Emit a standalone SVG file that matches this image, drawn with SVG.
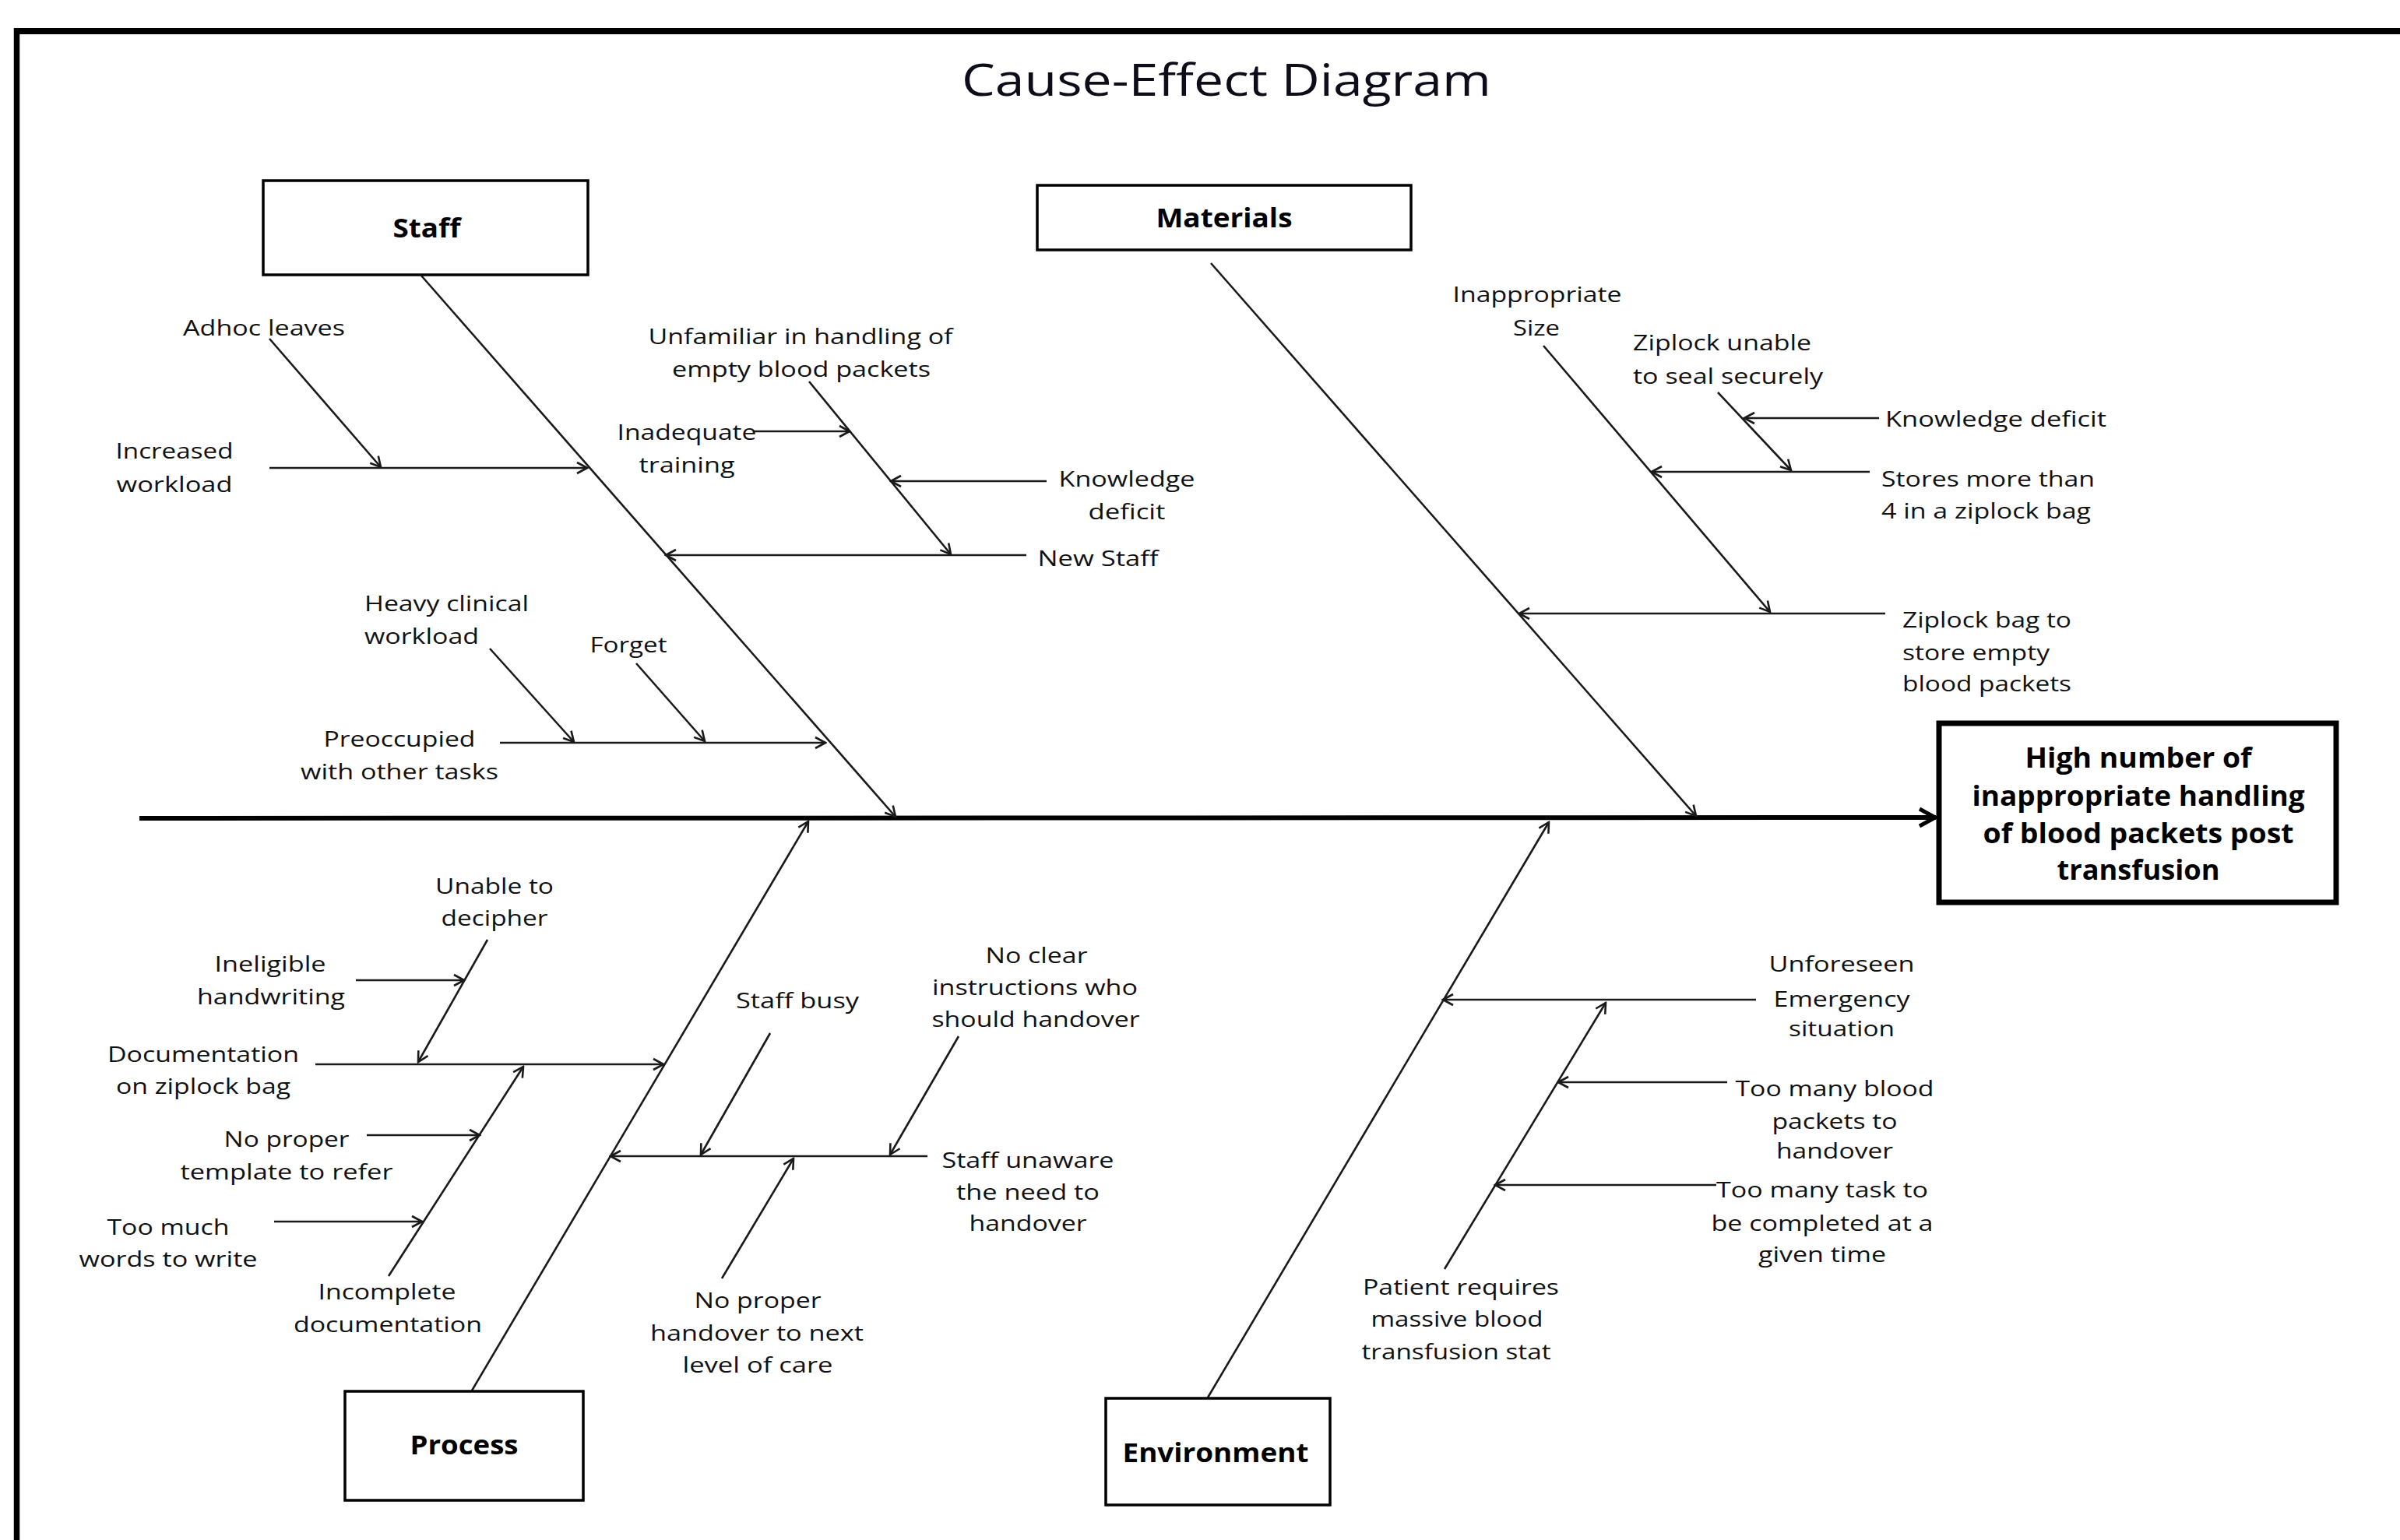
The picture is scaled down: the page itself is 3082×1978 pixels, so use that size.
<svg xmlns="http://www.w3.org/2000/svg" width="3082" height="1978" viewBox="0 0 3082 1978">
<style>
.t{font-family:"Open Sans","Liberation Sans",sans-serif;font-size:28px;fill:#111;text-anchor:middle}
.s{text-anchor:start}
.b{font-family:"Open Sans","Liberation Sans",sans-serif;font-weight:bold;font-size:34px;fill:#000;text-anchor:middle}
.title{font-family:"Open Sans","Liberation Sans",sans-serif;font-size:56px;fill:#0d0d1a;text-anchor:middle}
.box{fill:#fff;stroke:#000;stroke-width:3.5}
.c line{stroke:#1a1a1a;stroke-width:2.6;fill:none;marker-end:url(#a)}
.c line.spine{stroke:#000;stroke-width:6;marker-end:url(#big)}
</style>
<defs>
<marker id="a" viewBox="0 0 20 20" refX="18" refY="10" markerWidth="20" markerHeight="20" markerUnits="userSpaceOnUse" orient="auto">
<path d="M5,3 L18,10 L5,17" fill="none" stroke="#1a1a1a" stroke-width="2.6"/>
</marker>
<marker id="big" viewBox="0 0 30 30" refX="27" refY="15" markerWidth="30" markerHeight="30" markerUnits="userSpaceOnUse" orient="auto">
<path d="M6,4 L26,15 L6,26" fill="none" stroke="#000" stroke-width="5"/>
</marker>
</defs>
<rect width="3082" height="1978" fill="#fff"/>
<g id="frame">
<line x1="21.5" y1="36" x2="21.5" y2="1978" stroke="#000" stroke-width="7.5"/>
<line x1="18" y1="40" x2="3082" y2="40" stroke="#000" stroke-width="8"/>
</g>
<g id="title"><text class="title" x="1575" y="123" textLength="680" lengthAdjust="spacingAndGlyphs">Cause-Effect Diagram</text></g>

<g id="connectors" class="c">
<line class="spine" x1="179" y1="1051" x2="2486" y2="1050"/>
<line x1="541" y1="354" x2="1150" y2="1049"/>
<line x1="1555" y1="338" x2="2178" y2="1048"/>
<line x1="606" y1="1786" x2="1038" y2="1055"/>
<line x1="1551" y1="1795" x2="1989" y2="1056"/>
<line x1="346" y1="435" x2="489" y2="600"/>
<line x1="346" y1="601" x2="754" y2="601"/>
<line x1="1039" y1="490" x2="1221" y2="712"/>
<line x1="968" y1="554" x2="1091" y2="554"/>
<line x1="1344" y1="618" x2="1144" y2="618"/>
<line x1="1318" y1="713" x2="855" y2="713"/>
<line x1="629" y1="833" x2="737" y2="953"/>
<line x1="817" y1="852" x2="905" y2="952"/>
<line x1="642" y1="954" x2="1060" y2="954"/>
<line x1="1982" y1="444" x2="2273" y2="786"/>
<line x1="2206" y1="504" x2="2300" y2="604"/>
<line x1="2413" y1="537" x2="2240" y2="537"/>
<line x1="2401" y1="606" x2="2121" y2="606"/>
<line x1="2421" y1="788" x2="1951" y2="788"/>
<line x1="626" y1="1207" x2="537" y2="1364"/>
<line x1="457" y1="1259" x2="596" y2="1259"/>
<line x1="405" y1="1367" x2="852" y2="1367"/>
<line x1="471" y1="1458" x2="616" y2="1458"/>
<line x1="352" y1="1569" x2="542" y2="1569"/>
<line x1="499" y1="1639" x2="672" y2="1370"/>
<line x1="989" y1="1327" x2="900" y2="1483"/>
<line x1="1231" y1="1331" x2="1143" y2="1483"/>
<line x1="1191" y1="1485" x2="784" y2="1485"/>
<line x1="927" y1="1642" x2="1019" y2="1488"/>
<line x1="2255" y1="1284" x2="1853" y2="1284"/>
<line x1="1855" y1="1630" x2="2062" y2="1288"/>
<line x1="2218" y1="1390" x2="2001" y2="1390"/>
<line x1="2204" y1="1522" x2="1920" y2="1522"/>
</g>

<g id="staff"><rect class="box" x="338" y="232" width="417" height="121"/><text class="b" x="548" y="305" textLength="87" lengthAdjust="spacingAndGlyphs">Staff</text></g>
<g id="materials"><rect class="box" x="1332" y="238" width="480" height="83"/><text class="b" x="1572" y="292" textLength="175" lengthAdjust="spacingAndGlyphs">Materials</text></g>
<g id="process"><rect class="box" x="443" y="1787" width="306" height="140"/><text class="b" x="596" y="1868" textLength="139" lengthAdjust="spacingAndGlyphs">Process</text></g>
<g id="environment"><rect class="box" x="1420" y="1796" width="288" height="137"/><text class="b" x="1561" y="1878" textLength="239" lengthAdjust="spacingAndGlyphs">Environment</text></g>
<g id="effect"><rect x="2490" y="929" width="510" height="230" fill="#fff" stroke="#000" stroke-width="7"/>
<text class="b" style="font-size:36px" x="2746" y="986" textLength="291" lengthAdjust="spacingAndGlyphs">High number of</text>
<text class="b" style="font-size:36px" x="2746" y="1035" textLength="427" lengthAdjust="spacingAndGlyphs">inappropriate handling</text>
<text class="b" style="font-size:36px" x="2746" y="1083" textLength="399" lengthAdjust="spacingAndGlyphs">of blood packets post</text>
<text class="b" style="font-size:36px" x="2746" y="1130" textLength="209" lengthAdjust="spacingAndGlyphs">transfusion</text></g>

<g id="adhoc"><text class="t" x="339" y="431" textLength="208" lengthAdjust="spacingAndGlyphs">Adhoc leaves</text></g>
<g id="increased"><text class="t" x="224" y="589" textLength="151" lengthAdjust="spacingAndGlyphs">Increased</text><text class="t" x="224" y="632" textLength="149" lengthAdjust="spacingAndGlyphs">workload</text></g>
<g id="unfamiliar"><text class="t" x="1028" y="442" textLength="391" lengthAdjust="spacingAndGlyphs">Unfamiliar in handling of</text><text class="t" x="1029" y="484" textLength="332" lengthAdjust="spacingAndGlyphs">empty blood packets</text></g>
<g id="inadequate"><text class="t" x="882" y="565" textLength="179" lengthAdjust="spacingAndGlyphs">Inadequate</text><text class="t" x="882" y="607" textLength="123" lengthAdjust="spacingAndGlyphs">training</text></g>
<g id="knowledge1"><text class="t" x="1447" y="625" textLength="175" lengthAdjust="spacingAndGlyphs">Knowledge</text><text class="t" x="1447" y="667" textLength="99" lengthAdjust="spacingAndGlyphs">deficit</text></g>
<g id="newstaff"><text class="t" x="1410" y="727" textLength="155" lengthAdjust="spacingAndGlyphs">New Staff</text></g>
<g id="heavy"><text class="t s" x="468" y="785" textLength="211" lengthAdjust="spacingAndGlyphs">Heavy clinical</text><text class="t s" x="468" y="827" textLength="147" lengthAdjust="spacingAndGlyphs">workload</text></g>
<g id="forget"><text class="t" x="807" y="838" textLength="99" lengthAdjust="spacingAndGlyphs">Forget</text></g>
<g id="preoccupied"><text class="t" x="513" y="959" textLength="195" lengthAdjust="spacingAndGlyphs">Preoccupied</text><text class="t" x="513" y="1001" textLength="254" lengthAdjust="spacingAndGlyphs">with other tasks</text></g>

<g id="size"><text class="t" x="1974" y="388" textLength="217" lengthAdjust="spacingAndGlyphs">Inappropriate</text><text class="t" x="1973" y="431" textLength="60" lengthAdjust="spacingAndGlyphs">Size</text></g>
<g id="ziplock-unable"><text class="t s" x="2097" y="450" textLength="229" lengthAdjust="spacingAndGlyphs">Ziplock unable</text><text class="t s" x="2097" y="493" textLength="244" lengthAdjust="spacingAndGlyphs">to seal securely</text></g>
<g id="knowledge2"><text class="t s" x="2421" y="548" textLength="284" lengthAdjust="spacingAndGlyphs">Knowledge deficit</text></g>
<g id="stores"><text class="t s" x="2416" y="625" textLength="274" lengthAdjust="spacingAndGlyphs">Stores more than</text><text class="t s" x="2416" y="666" textLength="269" lengthAdjust="spacingAndGlyphs">4 in a ziplock bag</text></g>
<g id="ziplock-bag"><text class="t s" x="2443" y="806" textLength="217" lengthAdjust="spacingAndGlyphs">Ziplock bag to</text><text class="t s" x="2443" y="848" textLength="189" lengthAdjust="spacingAndGlyphs">store empty</text><text class="t s" x="2443" y="888" textLength="217" lengthAdjust="spacingAndGlyphs">blood packets</text></g>

<g id="unable"><text class="t" x="635" y="1148" textLength="152" lengthAdjust="spacingAndGlyphs">Unable to</text><text class="t" x="635" y="1189" textLength="137" lengthAdjust="spacingAndGlyphs">decipher</text></g>
<g id="ineligible"><text class="t" x="347" y="1248" textLength="143" lengthAdjust="spacingAndGlyphs">Ineligible</text><text class="t" x="348" y="1290" textLength="190" lengthAdjust="spacingAndGlyphs">handwriting</text></g>
<g id="documentation"><text class="t" x="261" y="1364" textLength="246" lengthAdjust="spacingAndGlyphs">Documentation</text><text class="t" x="261" y="1405" textLength="224" lengthAdjust="spacingAndGlyphs">on ziplock bag</text></g>
<g id="template"><text class="t" x="368" y="1473" textLength="161" lengthAdjust="spacingAndGlyphs">No proper</text><text class="t" x="368" y="1515" textLength="273" lengthAdjust="spacingAndGlyphs">template to refer</text></g>
<g id="toomuch"><text class="t" x="216" y="1586" textLength="157" lengthAdjust="spacingAndGlyphs">Too much</text><text class="t" x="216" y="1627" textLength="229" lengthAdjust="spacingAndGlyphs">words to write</text></g>
<g id="incomplete"><text class="t" x="497" y="1669" textLength="177" lengthAdjust="spacingAndGlyphs">Incomplete</text><text class="t" x="498" y="1711" textLength="242" lengthAdjust="spacingAndGlyphs">documentation</text></g>
<g id="busy"><text class="t" x="1024" y="1295" textLength="158" lengthAdjust="spacingAndGlyphs">Staff busy</text></g>
<g id="noclear"><text class="t" x="1331" y="1237" textLength="131" lengthAdjust="spacingAndGlyphs">No clear</text><text class="t" x="1329" y="1278" textLength="264" lengthAdjust="spacingAndGlyphs">instructions who</text><text class="t" x="1330" y="1319" textLength="267" lengthAdjust="spacingAndGlyphs">should handover</text></g>
<g id="unaware"><text class="t" x="1320" y="1500" textLength="221" lengthAdjust="spacingAndGlyphs">Staff unaware</text><text class="t" x="1320" y="1541" textLength="184" lengthAdjust="spacingAndGlyphs">the need to</text><text class="t" x="1320" y="1581" textLength="151" lengthAdjust="spacingAndGlyphs">handover</text></g>
<g id="nohandover"><text class="t" x="973" y="1680" textLength="163" lengthAdjust="spacingAndGlyphs">No proper</text><text class="t" x="972" y="1722" textLength="274" lengthAdjust="spacingAndGlyphs">handover to next</text><text class="t" x="973" y="1763" textLength="193" lengthAdjust="spacingAndGlyphs">level of care</text></g>

<g id="unforeseen"><text class="t" x="2365" y="1248" textLength="187" lengthAdjust="spacingAndGlyphs">Unforeseen</text><text class="t" x="2365" y="1293" textLength="175" lengthAdjust="spacingAndGlyphs">Emergency</text><text class="t" x="2365" y="1331" textLength="136" lengthAdjust="spacingAndGlyphs">situation</text></g>
<g id="toomanyblood"><text class="t" x="2356" y="1408" textLength="255" lengthAdjust="spacingAndGlyphs">Too many blood</text><text class="t" x="2356" y="1450" textLength="161" lengthAdjust="spacingAndGlyphs">packets to</text><text class="t" x="2356" y="1488" textLength="150" lengthAdjust="spacingAndGlyphs">handover</text></g>
<g id="toomanytask"><text class="t" x="2340" y="1538" textLength="272" lengthAdjust="spacingAndGlyphs">Too many task to</text><text class="t" x="2340" y="1581" textLength="285" lengthAdjust="spacingAndGlyphs">be completed at a</text><text class="t" x="2340" y="1621" textLength="164" lengthAdjust="spacingAndGlyphs">given time</text></g>
<g id="patient"><text class="t" x="1876" y="1663" textLength="252" lengthAdjust="spacingAndGlyphs">Patient requires</text><text class="t" x="1871" y="1704" textLength="221" lengthAdjust="spacingAndGlyphs">massive blood</text><text class="t" x="1870" y="1746" textLength="243" lengthAdjust="spacingAndGlyphs">transfusion stat</text></g>
</svg>
